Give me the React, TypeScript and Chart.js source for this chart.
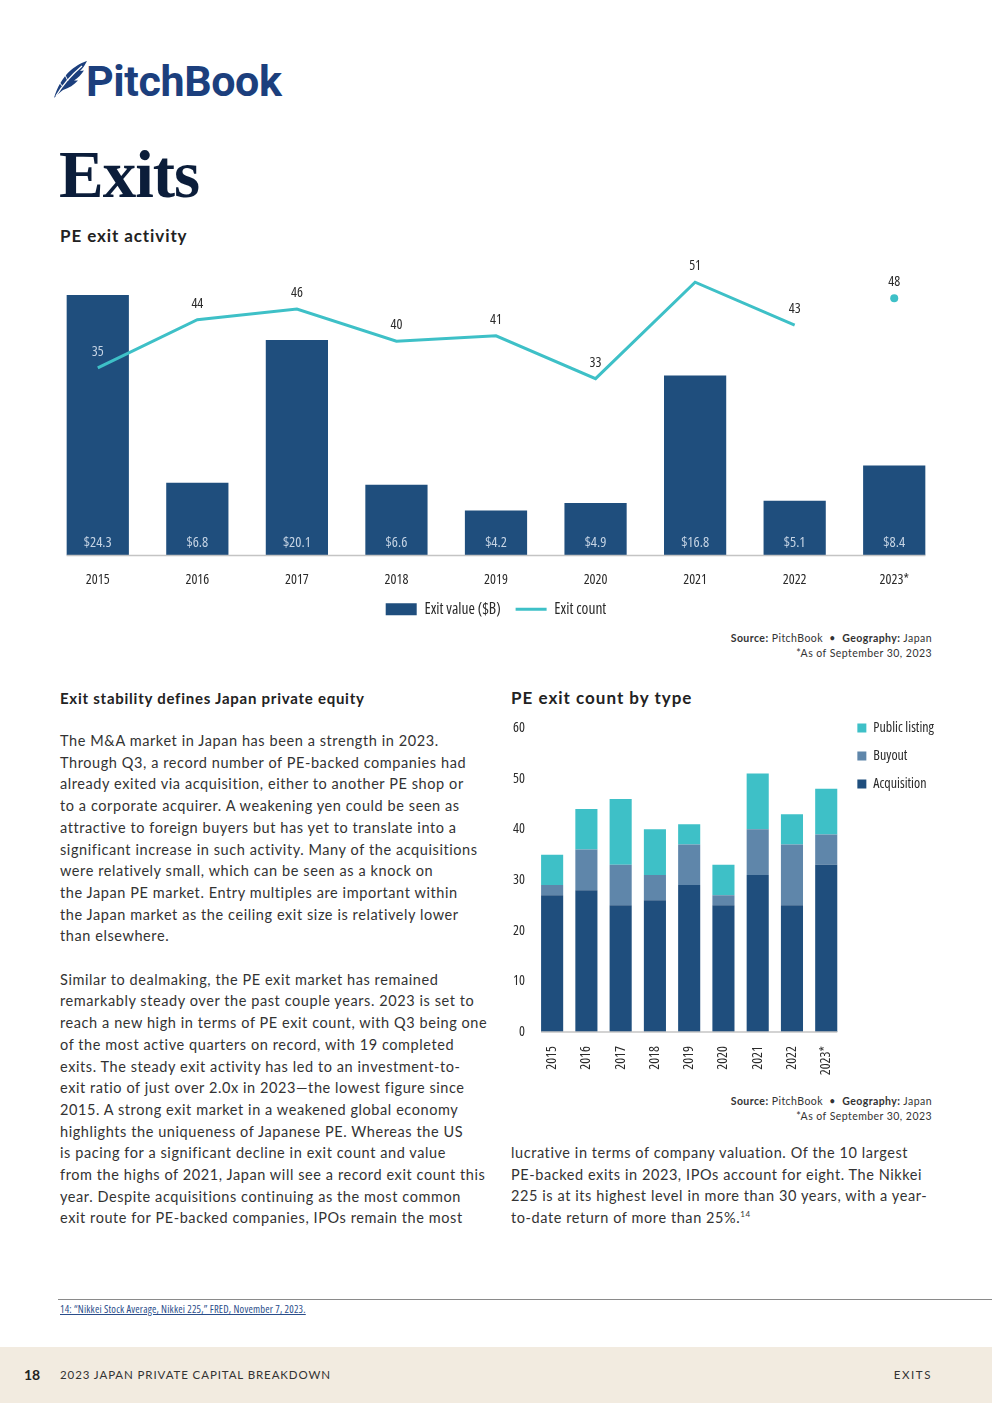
import React, { useEffect, useRef } from "react";
import { Chart, registerables } from "chart.js";

Chart.register(...registerables);

// ---------- DATA ----------
const years = ["2015", "2016", "2017", "2018", "2019", "2020", "2021", "2022", "2023*"];
const exitValue = [24.3, 6.8, 20.1, 6.6, 4.2, 4.9, 16.8, 5.1, 8.4];
const exitCount = [35, 44, 46, 40, 41, 33, 51, 43, 48];

const acquisition = [27, 28, 25, 26, 29, 25, 31, 25, 33];
const buyout = [2, 8, 8, 5, 8, 2, 9, 12, 6];
const publicListing = [6, 8, 13, 9, 4, 6, 11, 6, 9];

const countTicks = [0, 10, 20, 30, 40, 50, 60];

// ---------- STYLE ----------
const NAVY = "#1f4e7d";
const STEEL = "#5f86aa";
const TEAL = "#3ec0c7";
const COND_FAMILY = "'Open Sans', 'Roboto Condensed', sans-serif";
const COND_WEIGHT = "normal condensed"; // yields "normal condensed 14px 'Open Sans'"
const condFont = (size: number) => ({ size, family: COND_FAMILY, weight: COND_WEIGHT as any });
const SANS = "Lato, 'Open Sans', sans-serif";

const axisLinePlugin = {
  id: "axisLine",
  afterDatasetsDraw(chart: any) {
    const meta = chart.getDatasetMeta(0);
    if (!meta || !meta.data.length) return;
    const first = meta.data[0] as any;
    const last = meta.data[meta.data.length - 1] as any;
    const yScale = chart.scales[meta.yAxisID];
    const y = yScale.getPixelForValue(0);
    const ctx = chart.ctx;
    ctx.save();
    ctx.strokeStyle = "#c4c4c4";
    ctx.lineWidth = 1.5;
    ctx.beginPath();
    ctx.moveTo(first.x - first.width / 2, y);
    ctx.lineTo(last.x + last.width / 2, y);
    ctx.stroke();
    ctx.restore();
  },
};

const valueLabelPlugin = {
  id: "valueLabels",
  afterDatasetsDraw(chart: any) {
    const ctx = chart.ctx;
    const barMeta = chart.getDatasetMeta(0);
    const lineMeta = chart.getDatasetMeta(1);
    ctx.save();
    ctx.textAlign = "center";
    ctx.textBaseline = "middle";
    ctx.font = `${COND_WEIGHT} 14.5px ${COND_FAMILY}`;
    barMeta.data.forEach((bar: any, i: number) => {
      ctx.fillStyle = "#c6d4e4";
      ctx.fillText("$" + exitValue[i].toFixed(1), bar.x, bar.base - 13);
    });
    ctx.font = `${COND_WEIGHT} 14px ${COND_FAMILY}`;
    lineMeta.data.forEach((pt: any, i: number) => {
      const ly = pt.y - 16;
      const bar = barMeta.data[i] as any;
      const inside = ly > bar.y && ly < bar.base;
      ctx.fillStyle = inside ? "#c6d4e4" : "#2a2a2a";
      ctx.fillText(String(exitCount[i]), pt.x, ly);
    });
    ctx.restore();
  },
};

function TopChart() {
  const ref = useRef<HTMLCanvasElement | null>(null);
  useEffect(() => {
    if (!ref.current) return;
    const chart = new Chart(ref.current, {
      type: "bar",
      data: {
        labels: years,
        datasets: [
          {
            type: "bar",
            label: "Exit value ($B)",
            data: exitValue,
            backgroundColor: NAVY,
            yAxisID: "y",
            barPercentage: 0.625,
            categoryPercentage: 1,
            order: 2,
          },
          {
            type: "line",
            label: "Exit count",
            data: exitCount,
            borderColor: TEAL,
            backgroundColor: TEAL,
            borderWidth: 3,
            tension: 0,
            yAxisID: "y1",
            pointRadius: years.map((y) => (y.endsWith("*") ? 4 : 0)),
            pointHoverRadius: 0,
            pointBackgroundColor: TEAL,
            pointBorderWidth: 0,
            segment: {
              borderColor: (c: any) => (years[c.p1DataIndex].endsWith("*") ? "rgba(0,0,0,0)" : TEAL),
            },
            order: 1,
          } as any,
        ],
      },
      options: {
        animation: false,
        responsive: false,
        maintainAspectRatio: false,
        layout: { padding: { top: 9, left: 8, right: 8, bottom: 3 } },
        scales: {
          x: {
            grid: { display: false, drawTicks: false },
            border: { display: false },
            ticks: { color: "#2a2a2a", font: condFont(14), padding: 16 },
            afterFit: (scale: any) => {
              scale.height = 31;
            },
          },
          y: { display: false, min: 0, max: 30 },
          y1: { display: false, min: 0, max: 60 },
        },
        plugins: {
          tooltip: { enabled: false },
          legend: {
            position: "bottom",
            labels: {
              color: "#2a2a2a",
              font: condFont(15.5),
              usePointStyle: true,
              pointStyleWidth: 31,
              boxHeight: 12,
              padding: 15,
              sort: (a: any, b: any) => a.datasetIndex - b.datasetIndex,
              generateLabels: (ch: any) => {
                const base = Chart.defaults.plugins.legend.labels.generateLabels(ch);
                return base.map((l: any) =>
                  l.datasetIndex === 0
                    ? { ...l, pointStyle: "rect", lineWidth: 0, fillStyle: NAVY, strokeStyle: NAVY }
                    : { ...l, pointStyle: "line", lineWidth: 3, strokeStyle: TEAL, fillStyle: TEAL }
                );
              },
            },
          },
        },
      },
      plugins: [axisLinePlugin, valueLabelPlugin],
    });
    return () => chart.destroy();
  }, []);
  return <canvas ref={ref} width={912} height={405} style={{ width: 912, height: 405, display: "block" }} />;
}

function BottomChart() {
  const ref = useRef<HTMLCanvasElement | null>(null);
  useEffect(() => {
    if (!ref.current) return;
    const common = { barPercentage: 0.645, categoryPercentage: 1 };
    const chart = new Chart(ref.current, {
      type: "bar",
      data: {
        labels: years,
        datasets: [
          { label: "Acquisition", data: acquisition, backgroundColor: NAVY, ...common },
          { label: "Buyout", data: buyout, backgroundColor: STEEL, ...common },
          { label: "Public listing", data: publicListing, backgroundColor: TEAL, ...common },
        ],
      },
      options: {
        animation: false,
        responsive: false,
        maintainAspectRatio: false,
        layout: { padding: { top: 7, left: 5, right: 6, bottom: 0 } },
        scales: {
          x: {
            stacked: true,
            grid: { display: false, drawTicks: false },
            border: { display: false },
            ticks: {
              color: "#2a2a2a",
              font: condFont(14),
              padding: 14,
              minRotation: 90,
              maxRotation: 90,
              autoSkip: false,
            },
            afterFit: (scale: any) => {
              scale.height = 50;
            },
          },
          y: {
            stacked: true,
            min: countTicks[0],
            max: countTicks[countTicks.length - 1],
            grid: { display: false, drawTicks: false },
            border: { display: false },
            afterBuildTicks: (scale: any) => {
              scale.ticks = countTicks.map((v) => ({ value: v }));
            },
            afterFit: (scale: any) => {
              scale.width = 30;
            },
            ticks: { color: "#2a2a2a", font: condFont(14), padding: 10 },
          },
        },
        plugins: {
          tooltip: { enabled: false },
          title: {
            display: true,
            text: " ",
            fullSize: false,
            font: { size: 1, lineHeight: 1 },
            padding: { top: 0, bottom: 20 },
          },
          legend: {
            position: "right",
            align: "start",
            reverse: true,
            labels: {
              color: "#2a2a2a",
              font: condFont(14),
              boxWidth: 9,
              boxHeight: 9,
              padding: 14,
            },
          },
        },
      },
      plugins: [axisLinePlugin],
    });
    return () => chart.destroy();
  }, []);
  return <canvas ref={ref} width={450} height={382} style={{ width: 450, height: 382, display: "block" }} />;
}

function Feather() {
  return (
    <svg width="36" height="38" viewBox="0 0 36 38" style={{ position: "absolute", left: 52, top: 61 }}>
      <path
        d="M2 37 C5 27 10 17 19 9 C25 4 31 1 35 0 C33 4 31 7 28 10 L32 9.5 C29 14 26 17 22 19.5 L26 19.5 C22 24 17 27 11 29 C8 31 5 34 2 37 Z"
        fill="#1c3f7d"
      />
      <path d="M4 35 C10 25 17 16 30 5" stroke="#ffffff" strokeWidth="1.3" fill="none" />
      <path d="M11 26 L7 21 M16 20 L13 14" stroke="#ffffff" strokeWidth="1" fill="none" />
    </svg>
  );
}

const para1 = [
  "The M&A market in Japan has been a strength in 2023.",
  "Through Q3, a record number of PE-backed companies had",
  "already exited via acquisition, either to another PE shop or",
  "to a corporate acquirer. A weakening yen could be seen as",
  "attractive to foreign buyers but has yet to translate into a",
  "significant increase in such activity. Many of the acquisitions",
  "were relatively small, which can be seen as a knock on",
  "the Japan PE market. Entry multiples are important within",
  "the Japan market as the ceiling exit size is relatively lower",
  "than elsewhere.",
];
const para2 = [
  "Similar to dealmaking, the PE exit market has remained",
  "remarkably steady over the past couple years. 2023 is set to",
  "reach a new high in terms of PE exit count, with Q3 being one",
  "of the most active quarters on record, with 19 completed",
  "exits. The steady exit activity has led to an investment-to-",
  "exit ratio of just over 2.0x in 2023—the lowest figure since",
  "2015. A strong exit market in a weakened global economy",
  "highlights the uniqueness of Japanese PE. Whereas the US",
  "is pacing for a significant decline in exit count and value",
  "from the highs of 2021, Japan will see a record exit count this",
  "year. Despite acquisitions continuing as the most common",
  "exit route for PE-backed companies, IPOs remain the most",
];
const para3 = [
  "lucrative in terms of company valuation. Of the 10 largest",
  "PE-backed exits in 2023, IPOs account for eight. The Nikkei",
  "225 is at its highest level in more than 30 years, with a year-",
];

const bodyStyle: React.CSSProperties = {
  position: "absolute",
  fontFamily: SANS,
  fontSize: 14.5,
  lineHeight: "21.7px",
  letterSpacing: 0.58,
  color: "#333333",
  whiteSpace: "nowrap",
};

function Source({ top }: { top: number }) {
  return (
    <div
      style={{
        position: "absolute",
        right: 60,
        top,
        textAlign: "right",
        fontFamily: SANS,
        fontSize: 10.5,
        lineHeight: "15px",
        letterSpacing: 0.45,
        color: "#333",
        whiteSpace: "nowrap",
      }}
    >
      <div>
        <b>Source:</b> PitchBook &nbsp;•&nbsp; <b>Geography:</b> Japan
      </div>
      <div>*As of September 30, 2023</div>
    </div>
  );
}

export default function App() {
  useEffect(() => {
    document.body.style.margin = "0";
  }, []);
  return (
    <div style={{ position: "absolute", left: 0, top: 0, width: 992, height: 1403, background: "#fff", overflow: "hidden" }}>
      <Feather />
      <div
        style={{
          position: "absolute",
          left: 86,
          top: 55,
          fontFamily: "Roboto, 'Open Sans', sans-serif",
          fontWeight: 700,
          fontSize: 43,
          lineHeight: "52px",
          letterSpacing: -0.4,
          color: "#1c3f7d",
        }}
      >
        PitchBook
      </div>
      <div
        style={{
          position: "absolute",
          left: 59,
          top: 134,
          fontFamily: "'Liberation Serif', 'DejaVu Serif', serif",
          fontWeight: 700,
          fontSize: 67,
          lineHeight: "80px",
          letterSpacing: -1,
          color: "#0b1d3a",
        }}
      >
        Exits
      </div>
      <div
        style={{
          position: "absolute",
          left: 60,
          top: 226,
          fontFamily: SANS,
          fontWeight: 700,
          fontSize: 17,
          lineHeight: "20px",
          letterSpacing: 0.9,
          color: "#222",
        }}
      >
        PE exit activity
      </div>

      <div style={{ position: "absolute", left: 40, top: 225 }}>
        <TopChart />
      </div>
      <Source top={631} />

      <div
        style={{
          position: "absolute",
          left: 60,
          top: 688,
          fontFamily: SANS,
          fontWeight: 700,
          fontSize: 15,
          lineHeight: "20px",
          letterSpacing: 0.75,
          color: "#222",
          whiteSpace: "nowrap",
        }}
      >
        Exit stability defines Japan private equity
      </div>
      <div style={{ ...bodyStyle, left: 60, top: 730 }}>
        {para1.map((l, i) => (
          <div key={"a" + i}>{l}</div>
        ))}
        <div>&nbsp;</div>
        {para2.map((l, i) => (
          <div key={"b" + i}>{l}</div>
        ))}
      </div>

      <div
        style={{
          position: "absolute",
          left: 511,
          top: 687,
          fontFamily: SANS,
          fontWeight: 700,
          fontSize: 17,
          lineHeight: "22px",
          letterSpacing: 1.0,
          color: "#222",
          whiteSpace: "nowrap",
        }}
      >
        PE exit count by type
      </div>
      <div style={{ position: "absolute", left: 500, top: 700 }}>
        <BottomChart />
      </div>
      <Source top={1094} />

      <div style={{ ...bodyStyle, left: 511, top: 1142 }}>
        {para3.map((l, i) => (
          <div key={"c" + i}>{l}</div>
        ))}
        <div>
          to-date return of more than 25%.<sup style={{ fontSize: 8, verticalAlign: "top", lineHeight: "14px" }}>14</sup>
        </div>
      </div>

      <div style={{ position: "absolute", left: 58, top: 1299, width: 934, height: 1, background: "#8a8a8a" }} />
      <div
        style={{
          position: "absolute",
          left: 60,
          top: 1303,
          fontFamily: "'Open Sans', sans-serif",
          fontStretch: "condensed",
          fontSize: 10.5,
          lineHeight: "13px",
          letterSpacing: 0.2,
          color: "#2a4d8a",
          textDecoration: "underline",
          whiteSpace: "nowrap",
        }}
      >
        14: “Nikkei Stock Average, Nikkei 225,” FRED, November 7, 2023.
      </div>

      <div style={{ position: "absolute", left: 0, top: 1347, width: 992, height: 56, background: "#f2ebe0" }} />
      <div
        style={{
          position: "absolute",
          left: 24,
          top: 1366,
          fontFamily: SANS,
          fontWeight: 700,
          fontSize: 14,
          lineHeight: "18px",
          color: "#222",
        }}
      >
        18
      </div>
      <div
        style={{
          position: "absolute",
          left: 60,
          top: 1367,
          fontFamily: SANS,
          fontSize: 11.5,
          lineHeight: "16px",
          letterSpacing: 0.9,
          color: "#333",
          whiteSpace: "nowrap",
        }}
      >
        2023 JAPAN PRIVATE CAPITAL BREAKDOWN
      </div>
      <div
        style={{
          position: "absolute",
          right: 60,
          top: 1367,
          fontFamily: SANS,
          fontSize: 11.5,
          lineHeight: "16px",
          letterSpacing: 1.6,
          color: "#333",
        }}
      >
        EXITS
      </div>
    </div>
  );
}
